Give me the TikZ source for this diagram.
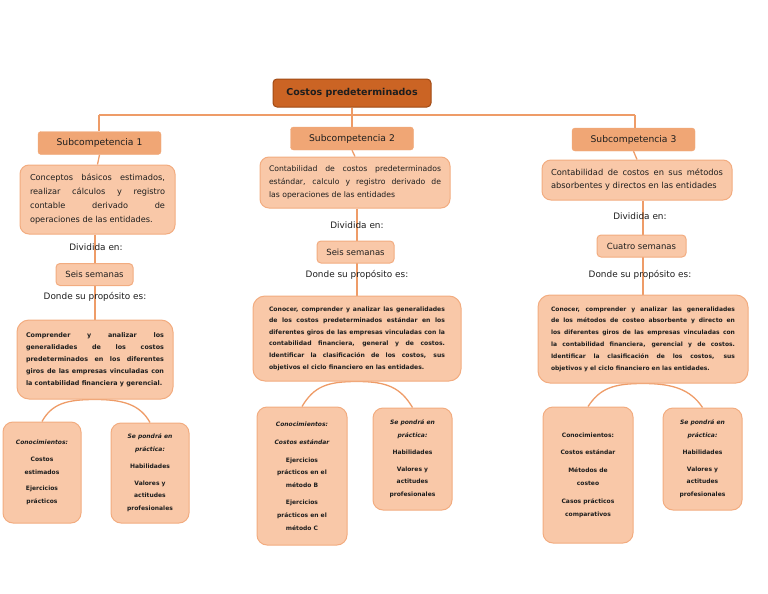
\documentclass[tikz,border=0pt]{standalone}
\usepackage{fontspec}
\setmainfont{DejaVu Sans}
\usetikzlibrary{backgrounds}
\definecolor{linec}{HTML}{EE9C68}
\definecolor{titlec}{HTML}{CB6424}
\definecolor{titleb}{HTML}{A04A14}
\definecolor{subc}{HTML}{F0A675}
\definecolor{descc}{HTML}{F9C8A8}
\definecolor{descb}{HTML}{F2AC80}
\definecolor{txt}{HTML}{1E1E1E}
\begin{document}
\begin{tikzpicture}[x=1pt,y=-1pt,
  conn/.style={draw=linec, line width=1.3pt},
  titlebox/.style={fill=titlec, draw=titleb, line width=1pt, rounded corners=4pt, minimum width=158pt, minimum height=28pt, text=txt, font=\bfseries\fontsize{9.5}{11}\selectfont},
  subbox/.style={fill=subc, draw=subc, rounded corners=3pt, minimum width=123pt, minimum height=23pt, text=txt, font=\fontsize{9.2}{11}\selectfont},
  descbox/.style={fill=descc, draw=descb, line width=1pt, rounded corners=9pt, align=justify, inner xsep=9pt, text=txt},
  weekbox/.style={fill=descc, draw=descb, line width=1pt, rounded corners=4pt, minimum height=22pt, text=txt, font=\fontsize{8.5}{10}\selectfont},
  lbl/.style={text=txt, font=\fontsize{8.9}{10}\selectfont},
  kidbox/.style={fill=descc, draw=descb, line width=1pt, rounded corners=10pt, align=center, text=txt, font=\bfseries\fontsize{6}{12.8}\selectfont},
  purpbox/.style={fill=descc, draw=descb, line width=1pt, rounded corners=12pt, align=justify, text=txt},
]
\useasboundingbox (0,0) rectangle (768,594);

\coordinate (j1) at (99,115);
\coordinate (j3) at (635,115);

\node[titlebox] (title) at (352,93) {Costos predeterminados};
\node[subbox] (sub1) at (99.5,143) {Subcompetencia 1};
\node[subbox] (sub2) at (352,138.5) {Subcompetencia 2};
\node[subbox] (sub3) at (633.5,139.5) {Subcompetencia 3};

\node[descbox, minimum width=155pt, minimum height=69pt, text width=135pt, inner xsep=10pt,
      font=\fontsize{8.2}{14}\selectfont] (desc1) at (97.5,199.5)
  {Conceptos básicos estimados,\linebreak realizar cálculos y registro\linebreak contable derivado de\linebreak operaciones de las entidades.};
\node[descbox, minimum width=190pt, minimum height=51pt, text width=172pt,
      font=\fontsize{7.7}{13}\selectfont] (desc2) at (355,182.5)
  {Contabilidad de costos predeterminados\linebreak estándar, calculo y registro derivado de\linebreak las operaciones de las entidades};
\node[descbox, minimum width=190pt, minimum height=40pt, text width=172pt,
      font=\fontsize{8.3}{13}\selectfont] (desc3) at (637,180)
  {Contabilidad de costos en sus métodos\linebreak absorbentes y directos en las entidades};

\node[lbl] (div1) at (96,247) {Dividida en:};
\node[lbl] (div2) at (357,225) {Dividida en:};
\node[lbl] (div3) at (640,216) {Dividida en:};

\node[weekbox, minimum width=77pt] (wk1) at (94.5,274.5) {Seis semanas};
\node[weekbox, minimum width=77pt] (wk2) at (355.5,252) {Seis semanas};
\node[weekbox, minimum width=89pt] (wk3) at (641.5,246) {Cuatro semanas};

\node[lbl] (don1) at (95,297) {Donde su propósito es:};
\node[lbl] (don2) at (357,275) {Donde su propósito es:};
\node[lbl] (don3) at (640,275) {Donde su propósito es:};

\node[purpbox, minimum width=156pt, minimum height=79pt, text width=138pt, inner xsep=9pt,
      font=\bfseries\fontsize{6.4}{12}\selectfont] (p1) at (95,359.5)
  {Comprender y analizar los\linebreak generalidades de los costos\linebreak predeterminados en los diferentes\linebreak giros de las empresas vinculadas con\linebreak la contabilidad financiera y gerencial.};
\node[purpbox, minimum width=208pt, minimum height=85pt, text width=176pt, inner xsep=16pt,
      font=\bfseries\fontsize{6.1}{11.6}\selectfont] (p2) at (357,338.5)
  {Conocer, comprender y analizar las generalidades\linebreak de los costos predeterminados estándar en los\linebreak diferentes giros de las empresas vinculadas con la\linebreak contabilidad financiera, general y de costos.\linebreak Identificar la clasificación de los costos, sus\linebreak objetivos el ciclo financiero en las entidades.};
\node[purpbox, minimum width=210pt, minimum height=88pt, text width=184pt, inner xsep=13pt,
      font=\bfseries\fontsize{6}{11.8}\selectfont] (p3) at (643,339)
  {Conocer, comprender y analizar las generalidades\linebreak de los métodos de costeo absorbente y directo en\linebreak los diferentes giros de las empresas vinculadas con\linebreak la contabilidad financiera, gerencial y de costos.\linebreak Identificar la clasificación de los costos, sus\linebreak objetivos y el ciclo financiero en las entidades.};

\node[kidbox, minimum width=78pt, minimum height=101pt] (k1l) at (42,472.5)
  {\itshape Conocimientos:\\[4pt] Costos\\ estimados\\[4pt] Ejercicios\\ prácticos};
\node[kidbox, minimum width=78pt, minimum height=100pt] (k1r) at (150,473)
  {\itshape Se pondrá en\\ \itshape práctica:\\[4pt] Habilidades\\[4pt] Valores y\\ actitudes\\ profesionales};
\node[kidbox, minimum width=90pt, minimum height=138pt] (k2l) at (302,476)
  {\itshape Conocimientos:\\[5pt] \itshape Costos estándar\\[5pt] Ejercicios\\ prácticos en el\\ método B\\[4pt] Ejercicios\\ prácticos en el\\ método C};
\node[kidbox, minimum width=79pt, minimum height=102pt] (k2r) at (412.5,459)
  {\itshape Se pondrá en\\ \itshape práctica:\\[4pt] Habilidades\\[4pt] Valores y\\ actitudes\\ profesionales};
\node[kidbox, minimum width=90pt, minimum height=136pt] (k3l) at (588,475)
  {Conocimientos:\\[5pt] Costos estándar\\[5pt] Métodos de\\ costeo\\[5pt] Casos prácticos\\ comparativos};
\node[kidbox, minimum width=79pt, minimum height=102pt] (k3r) at (702.5,459)
  {\itshape Se pondrá en\\ \itshape práctica:\\[4pt] Habilidades\\[4pt] Valores y\\ actitudes\\ profesionales};

\begin{scope}[on background layer]
  % trunk
  \draw[conn] (title.south) -- (sub2.north);
  \draw[conn] (j1) -- (j3);
  \draw[conn] (j1) -- (sub1.north -| j1);
  \draw[conn] (j3) -- (sub3.north -| j3);
  % sub -> description
  \draw[conn] (sub1.south) -- (desc1.north);
  \draw[conn] (sub2.south) -- (desc2.north);
  \draw[conn] (sub3.south) -- (desc3.north);
  % description -> purpose (through labels and weeks)
  \draw[conn] (desc1.south -| don1) -- (p1.north -| don1);
  \draw[conn] (desc2.south -| don2) -- (p2.north -| don2);
  \draw[conn] (desc3.south -| p3) -- (p3.north);
  % arcs to children
  \draw[conn] (k1l.north) .. controls +(10,-18) and +(-28,0) .. (p1.south)
              .. controls +(28,0) and +(-10,-18) .. (k1r.north);
  \draw[conn] (k2l.north) .. controls +(12,-20) and +(-30,0) .. (p2.south)
              .. controls +(30,0) and +(-12,-20) .. (k2r.north);
  \draw[conn] (k3l.north) .. controls +(12,-18) and +(-30,0) .. (p3.south)
              .. controls +(30,0) and +(-12,-18) .. (k3r.north);
\end{scope}
\end{tikzpicture}
\end{document}
